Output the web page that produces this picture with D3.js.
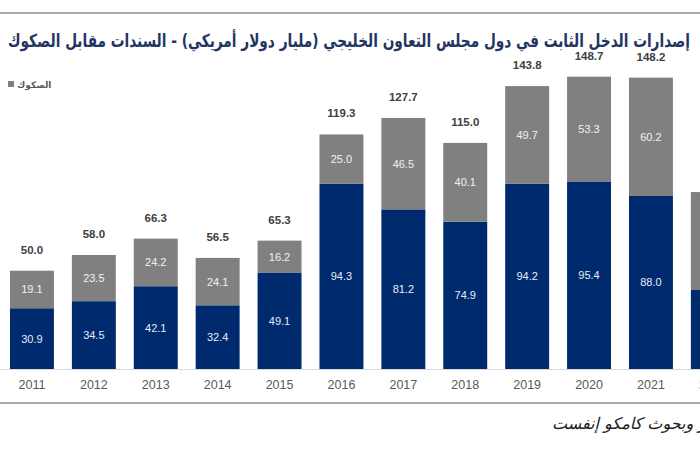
<!DOCTYPE html>
<html><head><meta charset="utf-8">
<script src="https://cdn.jsdelivr.net/npm/d3@7"></script>
<style>
html,body{margin:0;padding:0;background:#fff;}
svg{display:block;}
</style></head>
<body>
<svg id="chart" width="700" height="450"></svg>
<script>
const years = ['2011','2012','2013','2014','2015','2016','2017','2018','2019','2020','2021','2022'];
const conventional = [30.9,34.5,42.1,32.4,49.1,94.3,81.2,74.9,94.2,95.4,88.0,40.2];
const sukuk = [19.1,23.5,24.2,24.1,16.2,25.0,46.5,40.1,49.7,53.3,60.2,49.8];
const totals = [50.0,58.0,66.3,56.5,65.3,119.3,127.7,115.0,143.8,148.7,148.2,90.0];
const titleText = 'إصدارات الدخل الثابت في دول مجلس التعاون الخليجي (مليار دولار أمريكي) - السندات مقابل الصكوك';
const legendLabel = 'الصكوك';
const sourceText = 'المصدر: بلومبرغ وتقارير وبحوث كامكو إنفست';

const svg = d3.select('#chart');
const navy = '#002a6e', gray = '#808080';
const numFont = '"Liberation Sans", Arial, sans-serif';
const arFont = '"DejaVu Sans", sans-serif';

const x = d3.scaleBand().domain(years).range([1, 1 + 61.9 * years.length]).paddingInner(0.29).paddingOuter(0.145);
const y = d3.scaleLinear().domain([0, 150]).range([369, 369 - 1.966 * 150]);

// top rule
svg.append('line').attr('x1',0).attr('x2',700).attr('y1',13).attr('y2',13).attr('stroke','#8c8c8c').attr('stroke-width',1.5);

// title
svg.append('text').attr('x',690).attr('y',47).attr('text-anchor','start').attr('direction','rtl')
  .attr('font-family',arFont).attr('font-weight','bold').attr('font-size',18).attr('fill','#1f3563')
  .attr('textLength',682).attr('lengthAdjust','spacingAndGlyphs').text(titleText);

// legend
svg.append('rect').attr('x',8).attr('y',81).attr('width',6).attr('height',6).attr('fill',gray);
svg.append('text').attr('x',17).attr('y',88).attr('font-family',arFont).attr('font-weight','bold')
  .attr('font-size',9).attr('fill','#595959').text(legendLabel);

const data = years.map((yr,i)=>({yr, c:conventional[i], s:sukuk[i], t:totals[i]}));

const g = svg.append('g');
g.selectAll('rect.c').data(data).join('rect').attr('class','c')
  .attr('x',d=>x(d.yr)).attr('width',x.bandwidth())
  .attr('y',d=>y(d.c)).attr('height',d=>y(0)-y(d.c)).attr('fill',navy);
g.selectAll('rect.s').data(data).join('rect').attr('class','s')
  .attr('x',d=>x(d.yr)).attr('width',x.bandwidth())
  .attr('y',d=>y(d.c+d.s)).attr('height',d=>y(d.c)-y(d.c+d.s)).attr('fill',gray);

const cx = d => x(d.yr) + x.bandwidth()/2;
g.selectAll('text.cl').data(data).join('text').attr('class','cl')
  .attr('x',cx).attr('y',d=>(y(0)+y(d.c))/2 + 4).attr('text-anchor','middle')
  .attr('font-family',numFont).attr('font-size',11).attr('fill','#e6ecf7')
  .text(d=>d.c.toFixed(1));
g.selectAll('text.sl').data(data).join('text').attr('class','sl')
  .attr('x',cx).attr('y',d=>(y(d.c)+y(d.c+d.s))/2 + 4).attr('text-anchor','middle')
  .attr('font-family',numFont).attr('font-size',11).attr('fill','#f2f2f2')
  .text(d=>d.s.toFixed(1));
g.selectAll('text.tl').data(data).join('text').attr('class','tl')
  .attr('x',cx).attr('y',d=>y(d.t) - 17).attr('text-anchor','middle')
  .attr('font-family',numFont).attr('font-weight','bold').attr('font-size',11.5).attr('fill','#404040')
  .text(d=>d.t.toFixed(1));

const xAxis = d3.axisBottom(x).tickSize(0).tickPadding(11);
const ax = svg.append('g').attr('transform',`translate(0,${y(0)})`).call(xAxis);
ax.select('.domain').attr('d','M0,0.5H700').attr('stroke','#d9d9d9');
ax.selectAll('text').attr('font-family',numFont).attr('font-size',12.5).attr('fill','#595959');

svg.append('line').attr('x1',0).attr('x2',700).attr('y1',403).attr('y2',403).attr('stroke','#8c8c8c').attr('stroke-width',1.5);

svg.append('text').attr('x',552).attr('y',429).attr('text-anchor','start')
  .attr('font-family',arFont).attr('font-style','italic').attr('font-size',16).attr('fill','#222')
  .text(sourceText);
</script>
</body></html>
